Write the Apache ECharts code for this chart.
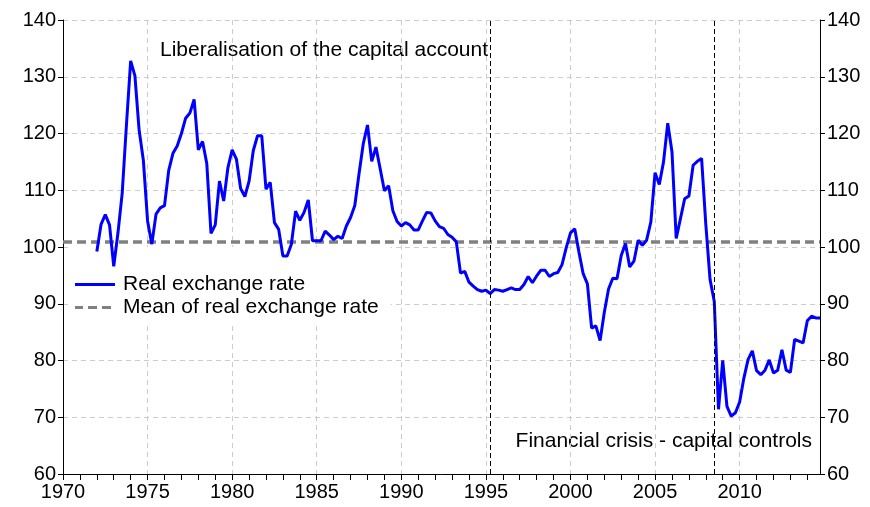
<!DOCTYPE html>
<html>
<head>
<meta charset="utf-8">
<script src="https://cdn.jsdelivr.net/npm/echarts@6/dist/echarts.min.js"></script>
<style>
  html, body { margin: 0; padding: 0; background: #fff; }
  #chart { width: 870px; height: 507px; }
</style>
</head>
<body>
<div id="chart"></div>
<script>
// quarterly real exchange rate, 1972Q1 .. 2014Q4
let startYear = 1972;
let rate = [
  99.2, 104.0, 105.7, 103.9,   // 1972
  96.6, 102.5, 109.5, 121.5,   // 1973
  132.8, 130.2, 120.6, 115.3,  // 1974
  104.6, 100.5, 105.8, 106.9,  // 1975
  107.3, 113.5, 116.5, 117.8,  // 1976
  120.0, 122.7, 123.6, 126.0,  // 1977
  117.1, 118.6, 114.7, 102.4,  // 1978
  103.9, 111.6, 108.1, 114.0,  // 1979
  117.1, 115.5, 110.3, 108.9,  // 1980
  111.6, 117.0, 119.6, 119.6,  // 1981
  110.2, 111.4, 104.3, 103.1,  // 1982
  98.4, 98.4, 100.5, 106.3,    // 1983
  104.7, 106.1, 108.3, 101.1,  // 1984
  101.1, 101.1, 102.8, 102.1,  // 1985
  101.3, 101.9, 101.5, 103.7,  // 1986
  105.2, 107.3, 112.9, 118.2,  // 1987
  121.5, 115.1, 117.6, 113.8,  // 1988
  109.9, 110.8, 106.4, 104.5,  // 1989
  103.7, 104.3, 103.9, 103.0,  // 1990
  103.0, 104.6, 106.1, 106.0,  // 1991
  104.6, 103.6, 103.3, 102.2,  // 1992
  101.7, 100.9, 95.4, 95.7,    // 1993
  93.8, 93.1, 92.5, 92.2,      // 1994
  92.4, 91.8, 92.5, 92.4,      // 1995
  92.2, 92.5, 92.8, 92.5,      // 1996
  92.5, 93.4, 94.8, 93.7,      // 1997
  94.9, 95.9, 95.9, 94.8,      // 1998
  95.3, 95.5, 96.9, 99.9,      // 1999
  102.5, 103.2, 99.1, 95.3,    // 2000
  93.5, 85.7, 86.1, 83.5,      // 2001
  88.5, 92.6, 94.5, 94.4,      // 2002
  98.5, 100.6, 96.5, 97.5,     // 2003
  101.2, 100.3, 101.2, 104.4,  // 2004
  113.1, 111.0, 115.0, 121.8,  // 2005
  116.8, 101.5, 105.0, 108.5,  // 2006
  109.0, 114.4, 115.1, 115.6,  // 2007
  104.0, 94.3, 90.4, 71.4,     // 2008
  80.0, 71.9, 70.2, 70.8,      // 2009
  72.7, 76.9, 80.2, 81.7,      // 2010
  78.2, 77.5, 78.3, 80.1,      // 2011
  77.8, 78.3, 81.9, 78.3,      // 2012
  77.9, 83.7, 83.4, 83.1,      // 2013
  87.0, 87.8, 87.5, 87.5       // 2014
];
let meanValue = 100.9;
let eventDates = [1995.25, 2008.5]; // 1995Q2, 2008Q3
let xMin = 1970;
let xMax = 2014.75;
let yTicks = [60, 70, 80, 90, 100, 110, 120, 130, 140];

let font = "'Liberation Sans', Arial, sans-serif";

let rateData = rate.map((v, i) => [startYear + i / 4, v]);
let meanData = [[xMin, meanValue], [xMax, meanValue]];

// legend icons: a solid bar and a dashed bar
let solidIcon = "path://M0,0h40v3h-40z";
let dashedIcon = "path://M0,0h8v3h-8z M13,0h9v3h-9z M27,0h9v3h-9z M40,0h0v3h0z";

let myChart = echarts.init(document.getElementById("chart"));

let yAxisBase = {
  type: "value",
  min: yTicks[0],
  max: yTicks[yTicks.length - 1],
  interval: 10,
  axisLine: { show: true, lineStyle: { color: "#000", width: 1 } },
  axisTick: { show: true, inside: false, length: 5, lineStyle: { color: "#000" } },
  axisLabel: { color: "#000", fontSize: 20, fontFamily: font, margin: 7 }
};

myChart.setOption({
  animation: false,
  backgroundColor: "#fff",
  grid: { left: 63, right: 50, top: 20, bottom: 33 },
  legend: {
    orient: "vertical",
    left: 70,
    top: 247,
    z: 1,
    padding: [27, 12, 8, 5],
    backgroundColor: "#fff",
    itemWidth: 40,
    itemHeight: 3,
    itemGap: 2,
    textStyle: { color: "#000", fontSize: 21, fontFamily: font, padding: [0, 0, 0, 3] },
    data: [
      { name: "Real exchange rate", icon: solidIcon },
      { name: "Mean of real exchange rate", icon: dashedIcon }
    ]
  },
  xAxis: {
    type: "value",
    min: xMin,
    max: xMax,
    interval: 1,
    axisLine: { show: true, onZero: false, lineStyle: { color: "#000", width: 1 } },
    axisTick: { show: true, length: 6, lineStyle: { color: "#000" } },
    axisLabel: {
      color: "#000",
      fontSize: 20,
      fontFamily: font,
      margin: 8,
      showMaxLabel: false,
      formatter: v => (v % 5 === 0 ? String(v) : "")
    },
    splitLine: {
      show: true,
      lineStyle: {
        color: ["#cccccc", "rgba(0,0,0,0)", "rgba(0,0,0,0)", "rgba(0,0,0,0)", "rgba(0,0,0,0)"],
        type: [5, 4],
        width: 1
      }
    }
  },
  yAxis: [
    Object.assign({}, yAxisBase, {
      position: "left",
      splitLine: { show: true, lineStyle: { color: "#cccccc", type: [5, 4], width: 1 } }
    }),
    Object.assign({}, yAxisBase, {
      position: "right",
      splitLine: { show: false }
    })
  ],
  graphic: [
    {
      type: "text",
      x: 488,
      y: 50,
      style: {
        text: "Liberalisation of the capital account",
        fill: "#000",
        font: "21px " + font,
        align: "right",
        verticalAlign: "middle"
      }
    },
    {
      type: "text",
      x: 812,
      y: 441,
      style: {
        text: "Financial crisis - capital controls",
        fill: "#000",
        font: "21px " + font,
        align: "right",
        verticalAlign: "middle"
      }
    }
  ],
  series: [
    {
      name: "Mean of real exchange rate",
      type: "line",
      data: meanData,
      symbol: "none",
      z: 3,
      lineStyle: { color: "#808080", width: 3.5, type: [9, 5] },
      itemStyle: { color: "#808080" }
    },
    {
      name: "Real exchange rate",
      type: "line",
      data: rateData,
      symbol: "none",
      z: 4,
      lineStyle: { color: "#0000ff", width: 3 },
      itemStyle: { color: "#0000ff" },
      markLine: {
        silent: true,
        symbol: "none",
        label: { show: false },
        lineStyle: { color: "#000", width: 1, type: [5, 3] },
        data: eventDates.map(d => ({ xAxis: d }))
      }
    }
  ]
});
</script>
</body>
</html>
